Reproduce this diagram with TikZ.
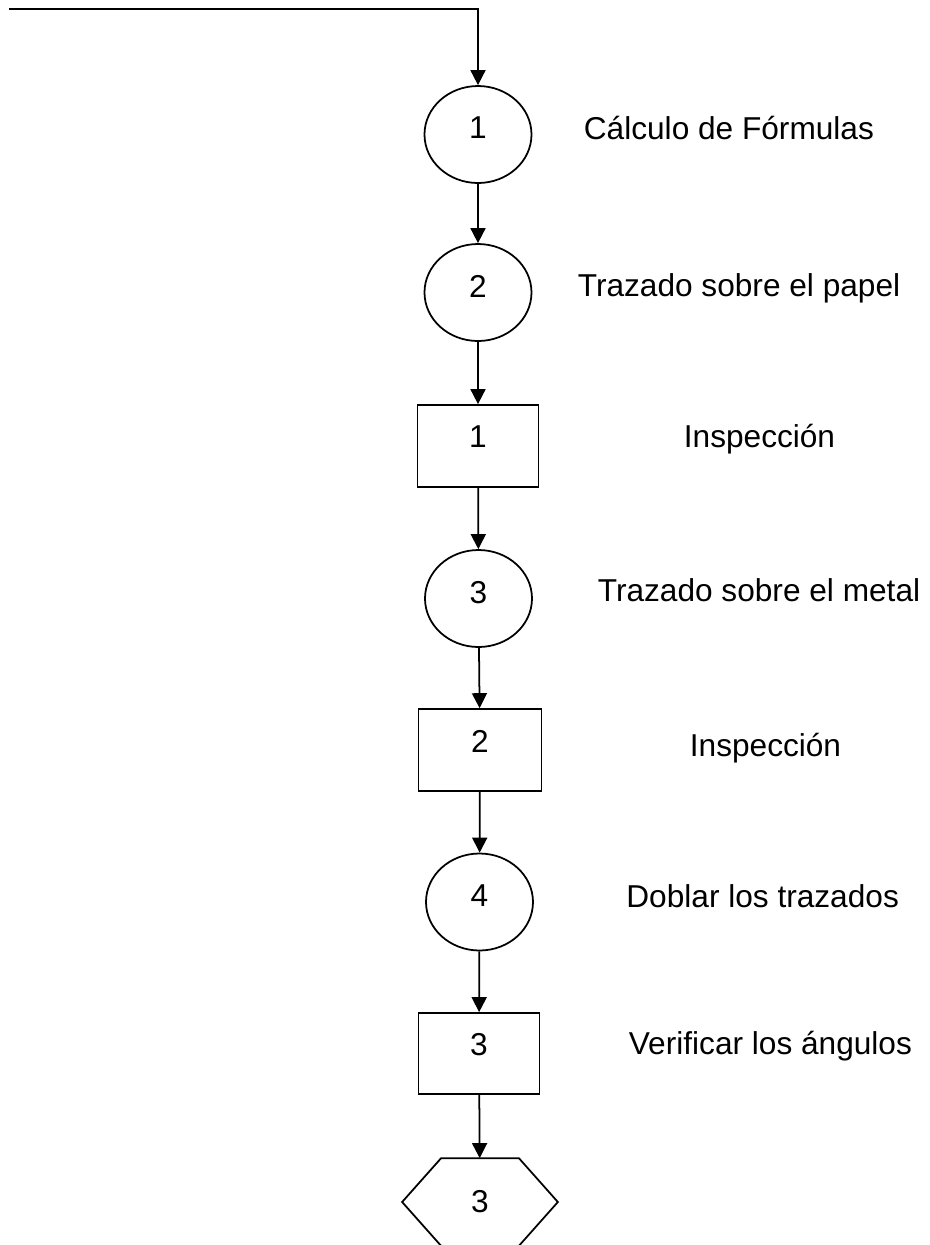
\documentclass[tikz,border=0pt]{standalone}
\usepackage{fontspec}
\setmainfont{Liberation Sans}
\usetikzlibrary{arrows.meta,shapes.geometric}

\begin{document}
\begin{tikzpicture}[line width=1pt, >={Triangle[length=8.5pt,width=8.5pt]},
    font=\fontsize{18}{22}\selectfont,
    operacion/.style={draw, ellipse, minimum width=2.14cm, minimum height=1.94cm, inner sep=0pt, text depth=0.26cm},
    inspeccion/.style={draw, rectangle, minimum width=2.42cm, minimum height=1.64cm, inner sep=0pt, text depth=0.36cm},
    etiqueta/.style={anchor=base west, inner sep=0pt}]
  \useasboundingbox (0,0) rectangle (18.6,-24.9);

  % Symbols
  \node[operacion] (c1) at (9.56, -2.69) {1};
  \node[operacion] (c2) at (9.56, -5.85) {2};
  \node[inspeccion] (r1) at (9.56, -8.92) {1};
  \node[operacion] (c3) at (9.57, -11.97) {3};
  \node[inspeccion, minimum width=2.46cm] (r2) at (9.6, -15.0) {2};
  \node[operacion] (c4) at (9.59, -18.04) {4};
  \node[inspeccion, minimum height=1.62cm] (r3) at (9.58, -21.07) {3};
  \node[minimum width=3.08cm, minimum height=1.72cm, inner sep=0pt] (hx) at (9.6, -24.04) {3};
  \draw (hx.west) -- ([xshift=0.78cm]hx.north west) -- ([xshift=-0.78cm]hx.north east)
    -- (hx.east) -- ([xshift=-0.78cm]hx.south east) -- ([xshift=0.78cm]hx.south west) -- cycle;

  % Flow
  \coordinate (inicio) at (0.18, -0.18);
  \draw[->] (inicio) -- (inicio -| c1) -- (c1);
  \draw[->] (c1) -- (c2);
  \draw[->] (c2) -- (r1);
  \draw[->] (r1) -- (c3);
  \draw[->] (c3) -- (r2);
  \draw[->] (r2) -- (c4);
  \draw[->] (c4) -- (r3);
  \draw[->] (r3) -- (hx);

  % Descriptions
  \node[etiqueta] (l1) at (11.66, -2.78) {Cálculo de Fórmulas};
  \node[etiqueta] (l2) at (11.54, -5.93) {Trazado sobre el papel};
  \node[etiqueta] (l3) at (13.66, -8.95) {Inspección};
  \node[etiqueta] (l4) at (11.94, -12.03) {Trazado sobre el metal};
  \node[etiqueta] (l5) at (13.78, -15.13) {Inspección};
  \node[etiqueta] (l6) at (12.51, -18.15) {Doblar los trazados};
  \node[etiqueta] (l7) at (12.56, -21.09) {Verificar los ángulos};
\end{tikzpicture}
\end{document}
